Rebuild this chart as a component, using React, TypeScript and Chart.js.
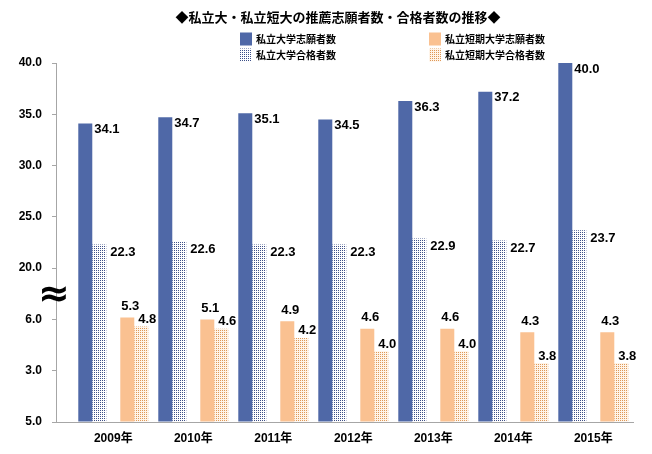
import { useEffect, useRef } from 'react';
import { Chart, registerables } from 'chart.js';

Chart.register(...registerables);

const title = '◆私立大・私立短大の推薦志願者数・合格者数の推移◆';
const years = ['2009年', '2010年', '2011年', '2012年', '2013年', '2014年', '2015年'];
const univApplicants = [34.1, 34.7, 35.1, 34.5, 36.3, 37.2, 40.0];
const univPassed = [22.3, 22.6, 22.3, 22.3, 22.9, 22.7, 23.7];
const jcApplicants = [5.3, 5.1, 4.9, 4.6, 4.6, 4.3, 4.3];
const jcPassed = [4.8, 4.6, 4.2, 4.0, 4.0, 3.8, 3.8];
const seriesNames = ['私立大学志願者数', '私立大学合格者数', '私立短期大学志願者数', '私立短期大学合格者数'];
// broken (non-linear) value axis: tick labels as printed, one per band
const yTickLabels = ['5.0', '3.0', '6.0', '20.0', '25.0', '30.0', '35.0', '40.0'];
// axis break table: value -> band position
const axisBreakValues = [0, 3.8, 4.0, 4.2, 4.3, 4.6, 4.8, 4.9, 5.1, 5.3, 6, 20, 40];
const axisBreakPositions = [0, 1.15, 1.38, 1.64, 1.75, 1.82, 1.86, 1.965, 2.0, 2.04, 2.1, 3, 7];

function toAxis(v: number): number {
  for (let i = 1; i < axisBreakValues.length; i++) {
    if (v <= axisBreakValues[i]) {
      const v0 = axisBreakValues[i - 1], v1 = axisBreakValues[i];
      const p0 = axisBreakPositions[i - 1], p1 = axisBreakPositions[i];
      return p0 + ((v - v0) / (v1 - v0)) * (p1 - p0);
    }
  }
  return axisBreakPositions[axisBreakPositions.length - 1];
}

const BLUE = '#4F68A7';
const ORANGE = '#FAC191';
const LABEL_FONT = 'bold 13px "Liberation Sans", Arial, sans-serif';
const CJK_FONT = '"Noto Sans CJK JP", "Noto Sans", sans-serif';

function makePattern(bg: string, dot: string): CanvasPattern | string {
  const c = document.createElement('canvas');
  c.width = 2;
  c.height = 2;
  const g = c.getContext('2d');
  if (!g) return bg;
  g.fillStyle = bg;
  g.fillRect(0, 0, 2, 2);
  g.fillStyle = dot;
  g.fillRect(0, 0, 1, 1);
  return g.createPattern(c, 'repeat') || bg;
}

export default function App() {
  const ref = useRef<HTMLCanvasElement | null>(null);

  useEffect(() => {
    if (!ref.current) return;
    const bluePattern = makePattern('#FFFFFF', '#3E5088');
    const orangePattern = makePattern('#FFF4E8', '#DE9858');
    const fills: any[] = [BLUE, bluePattern, ORANGE, orangePattern];

    const toPoints = (arr: number[]) => arr.map((v, i) => ({ x: i, y: toAxis(v) }));

    const datasets: any[] = [
      { label: seriesNames[0], data: toPoints(univApplicants), backgroundColor: BLUE, values: univApplicants, lab: 'rightTop' },
      { label: seriesNames[1], data: toPoints(univPassed), backgroundColor: bluePattern, values: univPassed, lab: 'rightTop2' },
      { label: '', data: [], backgroundColor: 'transparent', values: [], lab: 'none' },
      { label: seriesNames[2], data: toPoints(jcApplicants), backgroundColor: ORANGE, values: jcApplicants, lab: 'above' },
      { label: seriesNames[3], data: toPoints(jcPassed), backgroundColor: orangePattern, values: jcPassed, lab: 'above2' },
    ];

    const decor = {
      id: 'decor',
      afterDraw(chart: any) {
        const ctx = chart.ctx;
        ctx.save();
        // title
        ctx.fillStyle = '#000';
        ctx.font = `bold 13px ${CJK_FONT}`;
        ctx.textAlign = 'center';
        ctx.textBaseline = 'middle';
        ctx.fillText(title, 338, 17);
        // legend (2x2)
        const cols = [240, 429];
        const rows = [39, 55];
        const order = [0, 2, 1, 3];
        ctx.font = `bold 10px ${CJK_FONT}`;
        ctx.textAlign = 'left';
        order.forEach((si, k) => {
          const cx = cols[k % 2];
          const cy = rows[Math.floor(k / 2)];
          ctx.fillStyle = fills[si];
          ctx.fillRect(cx, cy - 6.5, 12, 13);
          ctx.fillStyle = '#000';
          ctx.fillText(seriesNames[si], cx + 16, cy);
        });
        // axis break mark
        const ya = chart.scales.y;
        const yBreak = (ya.getPixelForValue(2) + ya.getPixelForValue(3)) / 2;
        ctx.font = 'bold 38px "DejaVu Sans", sans-serif';
        ctx.textAlign = 'center';
        ctx.fillText('≈', ya.right - 2, yBreak + 2);
        ctx.restore();
      },
      afterDatasetsDraw(chart: any) {
        const ctx = chart.ctx;
        ctx.save();
        ctx.font = LABEL_FONT;
        ctx.fillStyle = '#000';
        ctx.textBaseline = 'middle';
        chart.data.datasets.forEach((ds: any, di: number) => {
          const meta = chart.getDatasetMeta(di);
          meta.data.forEach((bar: any, i: number) => {
            const txt = ds.values[i].toFixed(1);
            const right = bar.x + bar.width / 2;
            if (ds.lab === 'rightTop') {
              ctx.textAlign = 'left';
              ctx.fillText(txt, right + 2, bar.y + 6);
            } else if (ds.lab === 'rightTop2') {
              ctx.textAlign = 'left';
              ctx.fillText(txt, right + 4, bar.y + 8);
            } else if (ds.lab === 'above') {
              ctx.textAlign = 'center';
              ctx.fillText(txt, bar.x + 3, bar.y - 11);
            } else if (ds.lab === 'above2') {
              ctx.textAlign = 'center';
              ctx.fillText(txt, bar.x + 6, bar.y - 7);
            }
          });
        });
        ctx.restore();
      },
    };

    const chart = new Chart(ref.current, {
      type: 'bar',
      data: { datasets },
      options: {
        responsive: false,
        animation: false,
        events: [],
        layout: { padding: { left: 0, right: 18.7, top: 63, bottom: 0 } },
        datasets: { bar: { categoryPercentage: 0.875, barPercentage: 1 } },
        plugins: { legend: { display: false }, title: { display: false }, tooltip: { enabled: false } },
        scales: {
          x: {
            type: 'linear',
            offset: false,
            min: -0.716,
            max: 6.5,
            afterFit: (s: any) => { s.height = 32; },
            grid: { display: false, drawTicks: false, offset: false },
            border: { display: true, color: '#A6A6A6', width: 1 },
            ticks: {
              stepSize: 1,
              includeBounds: false,
              autoSkip: false,
              maxRotation: 0,
              padding: 9,
              color: '#000',
              font: { family: '"Liberation Sans", "Noto Sans CJK JP", sans-serif', size: 12, weight: 'bold' },
              callback: (v: any) => (Number.isInteger(v) && years[v] ? years[v] : ''),
            },
          },
          y: {
            type: 'linear',
            min: 0,
            max: 7,
            afterFit: (s: any) => { s.width = 56; },
            grid: { drawOnChartArea: false, drawTicks: true, tickLength: 4, color: '#A6A6A6' },
            border: { display: true, color: '#A6A6A6', width: 1 },
            ticks: {
              stepSize: 1,
              padding: 10,
              color: '#000',
              font: { family: '"Liberation Sans", Arial, sans-serif', size: 12, weight: 'bold' },
              callback: (v: any) => (Number.isInteger(v) ? yTickLabels[v] : ''),
            },
          },
        },
      },
      plugins: [decor],
    } as any);

    return () => chart.destroy();
  }, []);

  return (
    <div style={{ position: 'fixed', left: 0, top: 0, width: 652, height: 454, background: '#fff' }}>
      <canvas ref={ref} width={652} height={454} style={{ display: 'block' }} />
    </div>
  );
}
